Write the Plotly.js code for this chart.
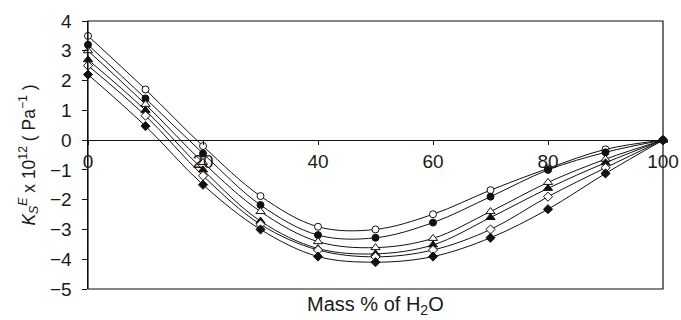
<!DOCTYPE html>
<html>
<head>
<meta charset="utf-8">
<script src="https://cdn.plot.ly/plotly-3.0.1.min.js"></script>
<style>html,body{margin:0;padding:0;background:#fff;}#chart{width:681px;height:320px;}</style>
</head>
<body>
<div id="chart"></div>
<script>
const massH2O = [0, 10, 20, 30, 40, 50, 60, 70, 80, 90, 100];
const seriesOpenCircle    = [3.5, 1.70, -0.20, -1.88, -2.91, -3.00, -2.49, -1.68, -0.95, -0.31, 0];
const seriesFilledCircle  = [3.2, 1.40, -0.45, -2.18, -3.19, -3.28, -2.77, -1.90, -1.00, -0.41, 0];
const seriesOpenTriangle  = [3.0, 1.20, -0.75, -2.40, -3.41, -3.61, -3.30, -2.40, -1.42, -0.64, 0];
const seriesFilledTriangle= [2.7, 1.00, -1.00, -2.72, -3.64, -3.82, -3.52, -2.60, -1.62, -0.76, 0];
const seriesOpenDiamond   = [2.5, 0.82, -1.20, -2.83, -3.69, -3.92, -3.69, -3.00, -1.90, -0.93, 0];
const seriesFilledDiamond = [2.2, 0.47, -1.50, -3.00, -3.91, -4.10, -3.91, -3.28, -2.32, -1.12, 0];
const yTicks = [-5, -4, -3, -2, -1, 0, 1, 2, 3, 4];
const xTicks = [0, 20, 40, 60, 80, 100];

const specs = [
  [seriesOpenCircle, 'circle', '#ffffff', 7],
  [seriesFilledCircle, 'circle', '#111111', 7],
  [seriesOpenTriangle, 'triangle-up', '#ffffff', 8],
  [seriesFilledTriangle, 'triangle-up', '#111111', 8],
  [seriesOpenDiamond, 'diamond', '#ffffff', 7],
  [seriesFilledDiamond, 'diamond', '#111111', 7]
];
const traces = specs.map(s => ({
  x: massH2O, y: s[0], type: 'scatter', mode: 'lines+markers',
  line: {color: '#111111', width: 1, shape: 'spline', smoothing: 1},
  marker: {symbol: s[1], color: s[2], size: s[3], line: {color: '#111111', width: 1}},
  showlegend: false, cliponaxis: false
}));

const font = {family: 'Arial, "Liberation Sans", sans-serif', size: 19, color: '#1a1a1a'};
const titleFont = {family: 'Arial, "Liberation Sans", sans-serif', size: 17.5, color: '#1a1a1a'};
const layout = {
  width: 681, height: 320,
  margin: {l: 88, r: 18, t: 21, b: 31},
  paper_bgcolor: '#ffffff', plot_bgcolor: '#ffffff',
  font: font,
  xaxis: {
    range: [0, 100], tickvals: xTicks, ticktext: xTicks.map(String),
    anchor: 'free', position: 5/9,
    showline: true, linecolor: '#111111', linewidth: 1.2,
    ticks: 'outside', ticklen: 4, tickcolor: '#111111',
    showgrid: false, zeroline: false, tickfont: font
  },
  yaxis: {
    range: [-5, 4], tickvals: yTicks,
    showline: true, linecolor: '#111111', linewidth: 1.5,
    ticks: 'outside', ticklen: 5, tickcolor: '#111111',
    ticklabelstandoff: 6,
    showgrid: false, zeroline: false, tickfont: font,
    title: {text: '<i>K</i><sub><i>S</i></sub><sup><i>E</i></sup> x 10<sup>12</sup> ( Pa<sup>\u22121</sup> )', font: titleFont, standoff: 10}
  },
  shapes: [
    {type: 'rect', xref: 'paper', yref: 'paper', x0: 0, x1: 1, y0: 0, y1: 1, line: {color: '#111111', width: 1.2}}
  ],
  annotations: [
    {text: 'Mass % of H<sub>2</sub>O', xref: 'paper', yref: 'paper', x: 0.5, y: -0.06, xanchor: 'center', yanchor: 'middle', showarrow: false, font: {family: 'Arial, "Liberation Sans", sans-serif', size: 20, color: '#1a1a1a'}}
  ]
};
Plotly.newPlot('chart', traces, layout, {displayModeBar: false, staticPlot: true});
</script>
</body>
</html>
